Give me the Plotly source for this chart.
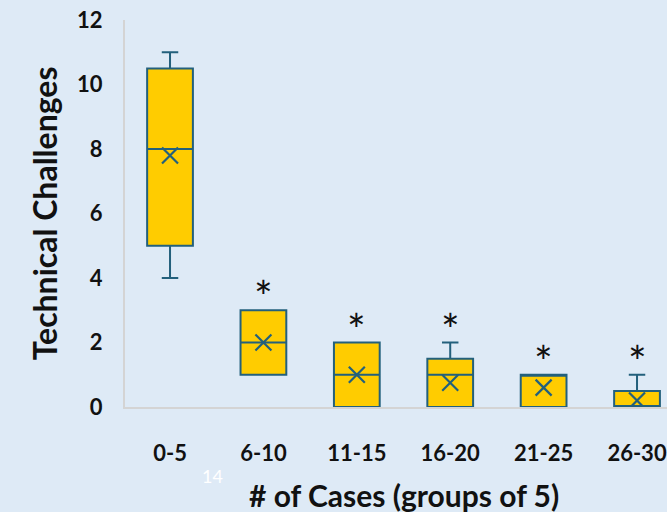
import plotly.graph_objects as go

# Technical challenges per group of five cases
groups = ["0-5", "6-10", "11-15", "16-20", "21-25", "26-30"]
lower_whisker = [4, 1, 0, 0, 0, 0]
q1 = [5, 1, 0, 0, 0, 0]
median = [8, 2, 1, 1, 1, 0]
q3 = [10.5, 3, 2, 1.5, 1, 0.5]
upper_whisker = [11, 3, 2, 2, 1, 1]
mean = [7.8, 2.0, 1.0, 0.75, 0.6, 0.2]
significant = [False, True, True, True, True, True]

y_ticks = [0, 2, 4, 6, 8, 10, 12]

BG = "#DEEAF6"
FILL = "#FFCC00"
EDGE = "#23607C"
FONT = "Lato"
INK = "#111111"

fig = go.Figure()

for i, g in enumerate(groups):
    fig.add_trace(go.Box(
        x=[g],
        q1=[q1[i]], median=[median[i]], q3=[q3[i]],
        lowerfence=[lower_whisker[i]], upperfence=[upper_whisker[i]],
        fillcolor=FILL,
        line=dict(color=EDGE, width=2),
        width=0.49,
        whiskerwidth=0.36,
        boxpoints=False,
        showlegend=False,
        hoverinfo="skip",
    ))

# Mean markers
fig.add_trace(go.Scatter(
    x=groups, y=mean, mode="markers",
    marker=dict(symbol="x-thin-open", size=16, color=EDGE,
                line=dict(color=EDGE, width=2.2)),
    showlegend=False, hoverinfo="skip",
))

# Significance asterisks above each flagged group
for i, g in enumerate(groups):
    if significant[i]:
        fig.add_annotation(
            x=g, y=upper_whisker[i], xref="x", yref="y",
            text="*", showarrow=False,
            font=dict(family=FONT, size=44, color=INK),
            yanchor="middle", yshift=14,
        )

fig.add_annotation(
    text="<b>Technical Challenges</b>", textangle=-90,
    x=-0.148, y=0.5, xref="paper", yref="paper",
    xanchor="center", yanchor="middle", showarrow=False,
    font=dict(family=FONT, size=32, color=INK),
)
fig.add_annotation(
    text="<b># of Cases (groups of 5)</b>",
    x=0.515, y=-0.227, xref="paper", yref="paper",
    xanchor="center", yanchor="middle", showarrow=False,
    font=dict(family=FONT, size=30, color=INK),
)
fig.add_annotation(
    text="14",
    x=0.162, y=-0.178, xref="paper", yref="paper",
    xanchor="center", yanchor="middle", showarrow=False,
    font=dict(family=FONT, size=18, color="#FFFFFF"),
)

fig.update_layout(
    width=667, height=512,
    margin=dict(l=125, r=0, t=20, b=105),
    paper_bgcolor=BG, plot_bgcolor=BG,
    font=dict(family=FONT, color=INK),
    xaxis=dict(
        type="category", range=[-0.482, 5.321],
        showgrid=False, zeroline=False,
        showline=True, linecolor="#D4D4D4", linewidth=2,
        layer="below traces",
        ticks="",
        tickfont=dict(family=FONT, size=22, color=INK, weight="bold"),
        ticklabelstandoff=26,
    ),
    yaxis=dict(
        range=[0, 12], tickvals=y_ticks,
        showgrid=False, zeroline=False,
        showline=True, linecolor="#D4D4D4", linewidth=2,
        layer="below traces",
        ticks="",
        tickfont=dict(family=FONT, size=22, color=INK, weight="bold"),
        ticklabelstandoff=16,
    ),
)

fig.write_html("out.html")
